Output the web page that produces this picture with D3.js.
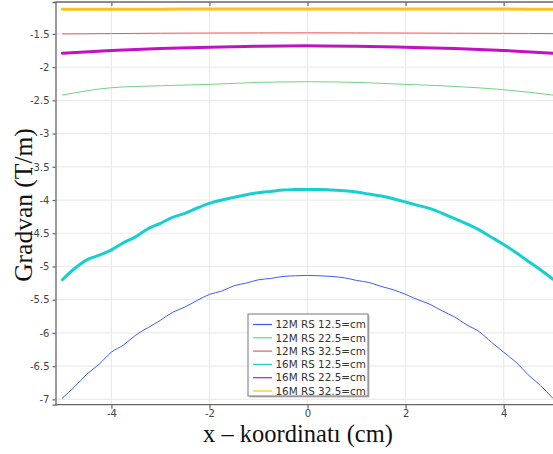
<!DOCTYPE html>
<html><head><meta charset="utf-8">
<script src="https://cdn.jsdelivr.net/npm/d3@7"></script>
<style>body{margin:0;background:#fff}svg{display:block}</style>
</head><body>
<svg id="c" width="553" height="454"></svg>
<script>
const xFine = [-5,-4.75,-4.5,-4.25,-4,-3.75,-3.5,-3.25,-3,-2.75,-2.5,-2.25,-2,-1.75,-1.5,-1.25,-1,-0.75,-0.5,-0.25,0,0.25,0.5,0.75,1,1.25,1.5,1.75,2,2.25,2.5,2.75,3,3.25,3.5,3.75,4,4.25,4.5,4.75,5];
const xCoarse = [-5,-4,-3,-2,-1,0,1,2,3,4,5];

const blue12 = [-6.98,-6.81,-6.62,-6.47,-6.29,-6.18,-6.03,-5.92,-5.81,-5.69,-5.61,-5.51,-5.42,-5.37,-5.29,-5.25,-5.20,-5.18,-5.15,-5.14,-5.135,-5.14,-5.15,-5.17,-5.21,-5.24,-5.30,-5.35,-5.42,-5.50,-5.57,-5.67,-5.76,-5.88,-5.98,-6.14,-6.29,-6.44,-6.63,-6.79,-6.98];
const cyan16 = [-5.20,-5.03,-4.90,-4.83,-4.75,-4.64,-4.55,-4.43,-4.35,-4.26,-4.20,-4.12,-4.05,-4.00,-3.96,-3.92,-3.89,-3.87,-3.85,-3.84,-3.84,-3.84,-3.85,-3.86,-3.88,-3.91,-3.94,-3.98,-4.03,-4.08,-4.13,-4.20,-4.28,-4.36,-4.45,-4.56,-4.67,-4.79,-4.92,-5.05,-5.19];
const green12 = [-2.42,-2.31,-2.28,-2.26,-2.23,-2.22,-2.23,-2.26,-2.29,-2.34,-2.42];
const red12 = [-1.50,-1.495,-1.49,-1.487,-1.485,-1.484,-1.485,-1.487,-1.49,-1.492,-1.495];
const mag16 = [-1.79,-1.75,-1.72,-1.70,-1.685,-1.68,-1.685,-1.70,-1.72,-1.75,-1.79];
const gold16 = [-1.13,-1.129,-1.128,-1.126,-1.125,-1.124,-1.124,-1.125,-1.126,-1.127,-1.128];

const seriesNames = ["12M RS 12.5=cm","12M RS 22.5=cm","12M RS 32.5=cm","16M RS 12.5=cm","16M RS 22.5=cm","16M RS 32.5=cm"];
const seriesColors = ["#3a5cff","#6fd57f","#e06060","#16cfcf","#c410c4","#ffbf1f"];
const seriesWidths = [1,1,1,3,3,3];
const seriesX = [xFine,xCoarse,xCoarse,xFine,xCoarse,xCoarse];
const seriesY = [blue12,green12,red12,cyan16,mag16,gold16];

const yTicks = [-1.5,-2,-2.5,-3,-3.5,-4,-4.5,-5,-5.5,-6,-6.5,-7];
const xTicks = [-4,-2,0,2,4];

const svg = d3.select("#c");
const L = 55.5, R = 552.7, T = 2, B = 404.7;
const x = d3.scaleLinear().domain([-5.14,5.0]).range([L,R]);
const y = d3.scaleLinear().domain([-7.08,-1.02]).range([B,T]);

// grid
svg.append("g").selectAll("line").data(yTicks).join("line")
  .attr("x1",L).attr("x2",553).attr("y1",d=>y(d)).attr("y2",d=>y(d))
  .attr("stroke","#ebebeb").attr("stroke-width",1.2);
svg.append("g").selectAll("line").data(xTicks).join("line")
  .attr("y1",T).attr("y2",B).attr("x1",d=>x(d)).attr("x2",d=>x(d))
  .attr("stroke","#ebebeb").attr("stroke-width",1.2);

const tickFont = "DejaVu Sans, sans-serif";
// axes
const yAxis = svg.append("g").attr("transform",`translate(${L},0)`)
  .call(d3.axisLeft(y).tickValues(yTicks).tickSize(3).tickPadding(3).tickFormat(d=>String(d)));
const xAxis = svg.append("g").attr("transform",`translate(0,${B})`)
  .call(d3.axisBottom(x).tickValues(xTicks).tickSize(4).tickPadding(1.5).tickFormat(d=>String(d)));
const xTop = svg.append("g").attr("transform",`translate(0,${T})`)
  .call(d3.axisTop(x).tickValues(xTicks).tickSize(-4).tickFormat(""));
[yAxis,xAxis,xTop].forEach(g=>{
  g.select(".domain").attr("stroke","#666").attr("stroke-width",1.3);
  g.selectAll(".tick line").attr("stroke","#666").attr("stroke-width",1.2);
  g.selectAll("text").attr("fill","#444").style("font-family",tickFont).style("font-size","10px");
});
xTop.select(".domain").attr("d",`M${L},0H553`);
xAxis.select(".domain").attr("d",`M${L},0H553`);

// lines
const lineGen = d3.line().curve(d3.curveMonotoneX);
seriesY.forEach((ys,i)=>{
  const pts = ys.map((v,j)=>[x(seriesX[i][j]), y(v)]);
  svg.append("path").attr("d",lineGen(pts)).attr("fill","none")
    .attr("stroke",seriesColors[i]).attr("stroke-width",seriesWidths[i])
    .attr("stroke-linejoin","round").attr("stroke-linecap","round");
});

// legend
const lg = svg.append("g").attr("transform","translate(248,314)");
lg.append("rect").attr("x",1.5).attr("y",1.5).attr("width",120).attr("height",82).attr("fill","#bbb");
lg.append("rect").attr("x",0).attr("y",0).attr("width",120).attr("height",82)
  .attr("fill","#fff").attr("stroke","#777").attr("stroke-width",1);
seriesNames.forEach((n,i)=>{
  const yy = 10.5 + i*13.3;
  lg.append("line").attr("x1",5).attr("x2",24).attr("y1",yy).attr("y2",yy)
    .attr("stroke",seriesColors[i]).attr("stroke-width",1.2);
  lg.append("text").attr("x",27.5).attr("y",yy+3.7).text(n)
    .attr("fill","#333").style("font-family",tickFont).style("font-size","10.4px");
});

// axis titles
svg.append("text").attr("x",298).attr("y",441.5).attr("text-anchor","middle")
  .style("font-family","Liberation Serif, Times New Roman, serif").style("font-size","24.5px")
  .attr("fill","#111").text("x – koordinatı (cm)");
svg.append("text").attr("transform","translate(32,205) rotate(-90)").attr("text-anchor","middle")
  .style("font-family","Liberation Serif, Times New Roman, serif").style("font-size","25.5px")
  .attr("fill","#111").text("Gradvan (T/m)");
</script>
</body></html>
